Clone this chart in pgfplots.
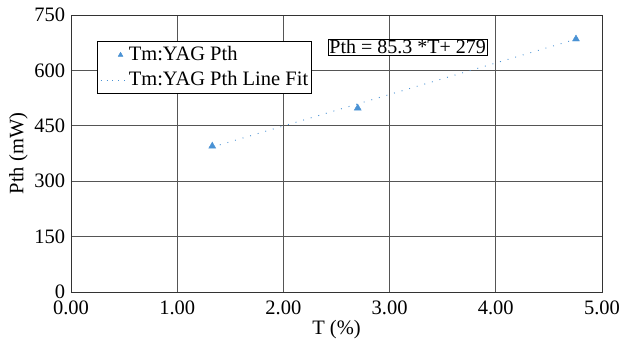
\documentclass[border=0pt]{standalone}
\usepackage{pgfplots}
\pgfplotsset{compat=1.18}
\usepackage{fontspec}
\setmainfont{Liberation Serif}
\definecolor{ptblue}{RGB}{74,146,212}
\definecolor{gridgray}{RGB}{85,85,85}
\begin{document}
\fontsize{20}{24}\selectfont
\begin{tikzpicture}
\useasboundingbox (0,0) rectangle (634pt,341pt);
\begin{axis}[
  at={(71pt,49pt)}, anchor=south west,
  scale only axis, width=531pt, height=277pt,
  xmin=0, xmax=5, ymin=0, ymax=750,
  xtick={0,1,2,3,4,5}, ytick={0,150,300,450,600,750},
  xticklabel style={yshift=-2pt, /pgf/number format/fixed, /pgf/number format/fixed zerofill, /pgf/number format/precision=2},
  /pgf/number format/assume math mode=true,
  tick label style={font=\fontsize{20.5}{24}\selectfont},
  yticklabel style={xshift=1pt},
  label style={font=\fontsize{20.5}{24}\selectfont},
  xlabel={T (\%)}, ylabel={Pth (mW)},
  xlabel style={yshift=8pt},
  ylabel style={yshift=-7pt},
  major tick length=0pt,
  grid=major, grid style={gridgray, line width=0.8pt},
  axis line style={black!80, line width=0.9pt},
  legend style={at={(rel axis cs:0.049,0.906)}, anchor=north west,
    draw=black, line width=0.7pt, fill=white, font=\fontsize{20.5}{24}\selectfont,
    inner xsep=1pt, inner ysep=3pt, row sep=4pt, legend cell align=left,
    nodes={inner xsep=2pt}},
]
\addplot[only marks, mark=triangle*, mark size=4pt, color=ptblue,
  mark options={fill=ptblue},
  legend image code/.code={\draw[draw=none] (0cm,0cm) -- (1.0cm,0cm);\filldraw[ptblue, line width=0.4pt] (0.78cm,0cm) ++(-2.4pt,-1.4pt) -- ++(4.8pt,0pt) -- ++(-2.4pt,4.2pt) -- cycle;}] coordinates {(1.33,395) (2.70,498) (4.755,685)};
\addlegendentry{Tm:YAG Pth}
\addplot[ptblue, line width=0.9pt, dash pattern=on 0.9pt off 7pt,
  legend image code/.code={\draw[ptblue, line width=0.9pt, dash pattern=on 0.9pt off 5pt] (0.08cm,0cm) -- (0.95cm,0cm);}] coordinates {(1.33,392.4) (4.755,684.6)};
\addlegendentry{Tm:YAG Pth Line Fit}
\node[draw=black, line width=0.7pt, fill=white, inner sep=1pt, font=\fontsize{20}{24}\selectfont] at (axis cs:3.17,663) {Pth = 85.3 *T+ 279};
\end{axis}
\end{tikzpicture}
\end{document}
